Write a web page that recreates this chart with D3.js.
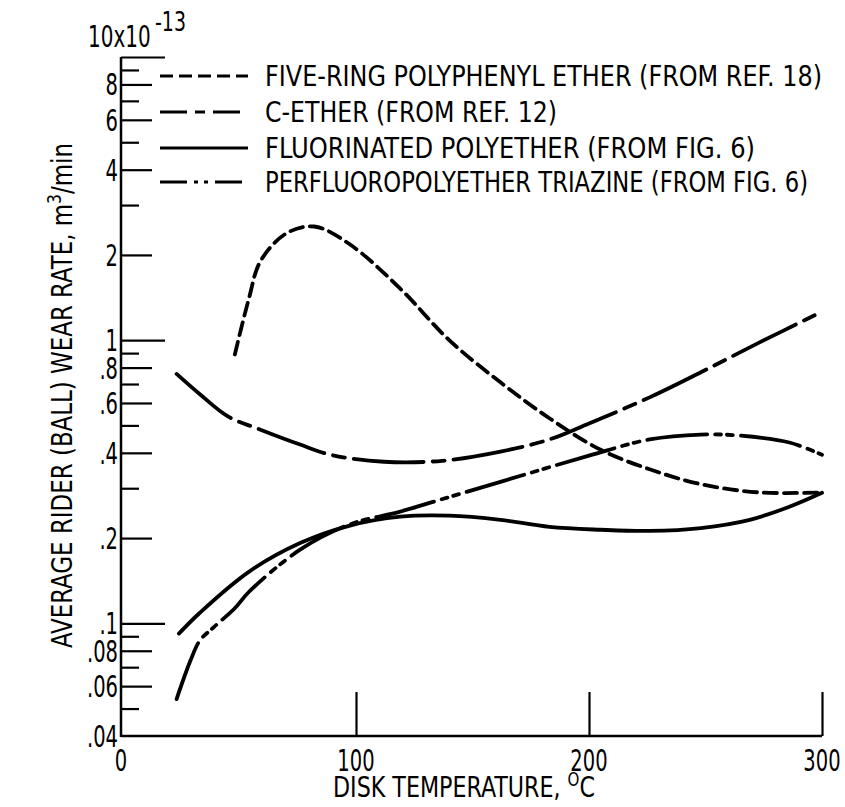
<!DOCTYPE html>
<html><head><meta charset="utf-8">
<script src="https://cdn.jsdelivr.net/npm/d3@7"></script>
<style>
html,body{margin:0;padding:0;background:#fff;}
text{font-family:"Liberation Sans Narrow","DejaVu Sans Condensed","DejaVu Sans",sans-serif;fill:#000;}
</style></head>
<body><svg id="c" width="845" height="807"></svg>
<script>
// ---- data ----
const fiveRingT = [48,54,59,70,82,97,119,140,162,183,205,226,248,273,300];
const fiveRingV = [0.89,1.4,1.9,2.38,2.52,2.19,1.52,1.0,0.71,0.53,0.41,0.35,0.31,0.29,0.29];
const cEtherT = [23,33,45,59,76,89,112,137,162,183,200,226,248,273,300];
const cEtherV = [0.76,0.644,0.538,0.483,0.428,0.394,0.372,0.375,0.404,0.446,0.508,0.628,0.77,0.98,1.26];
const fluoroT = [24,33,54,76,97,119,140,162,183,205,226,248,269,286,300];
const fluoroV = [0.092,0.109,0.152,0.192,0.221,0.238,0.240,0.232,0.219,0.214,0.212,0.217,0.232,0.258,0.289];
const triazineT = [23,29,33,39,48,54,76,97,119,136,162,200,226,248,265,286,300];
const triazineV = [0.054,0.074,0.087,0.097,0.113,0.129,0.182,0.223,0.248,0.273,0.316,0.391,0.446,0.464,0.46,0.435,0.394];
const seriesNames = ["FIVE-RING POLYPHENYL ETHER (FROM REF. 18)","C-ETHER (FROM REF. 12)","FLUORINATED POLYETHER (FROM FIG. 6)","PERFLUOROPOLYETHER TRIAZINE (FROM FIG. 6)"];
const xTickValues = [0,100,200,300];
const xTickLabels = ["0","100","200","300"];
const yLabelValues = [8,6,4,2,1,0.8,0.6,0.4,0.2,0.1,0.08,0.06,0.04];
const yLabelTexts = ["8","6","4","2","1",".8",".6",".4",".2",".1",".08",".06",".04"];
const yMinorTicks = [9,7,5,3,0.9,0.7,0.5,0.3,0.09,0.07,0.05];
const yMajorTicks = [8,6,4,2,0.8,0.6,0.4,0.2,0.08,0.06];
const yDecadeTicks = [10,1,0.1];

// ---- styles ----
const dashes = ["13,7","70,9,12,9",null,"60,8,6,6,6,8"];
const legDashes = ["13,6","27,8,10,8",null,"27,7,4,6,4,7"];
const svg = d3.select("#c");
const x = d3.scaleLinear().domain([0,300]).range([123,822]);
const y = d3.scaleLog().domain([0.04,10]).range([736,57]);
const X0 = 121;
const SX = 0.7; // horizontal condensing of tick numerals

// axes lines
svg.append("line").attr("x1",X0).attr("x2",X0).attr("y1",y(10)).attr("y2",y(0.04)+1)
  .attr("stroke","#000").attr("stroke-width",2.5);
svg.append("line").attr("x1",X0).attr("x2",x(300)).attr("y1",y(0.04)).attr("y2",y(0.04))
  .attr("stroke","#000").attr("stroke-width",2.5);

// y ticks (pointing right)
function yTicks(vals,len){
  const g = svg.append("g").attr("transform",`translate(${X0},0)`)
    .call(d3.axisRight(y).tickValues(vals).tickSize(len).tickFormat(""));
  g.select(".domain").remove();
  g.selectAll("line").attr("stroke","#000").attr("stroke-width",2.2);
}
yTicks(yMinorTicks,18);
yTicks(yMajorTicks,31);
yTicks(yDecadeTicks,44);

// y labels
svg.append("g").selectAll("text").data(yLabelValues).join("text")
  .attr("transform",(d)=>`translate(${X0-3},${y(d)+11}) scale(${SX},1)`)
  .attr("text-anchor","end").attr("font-size",31)
  .text((d,i)=>yLabelTexts[i]);

// x ticks (pointing up)
const gxt = svg.append("g").attr("transform",`translate(0,${y(0.04)})`)
  .call(d3.axisTop(x).tickValues(xTickValues.slice(1)).tickSize(44).tickFormat(""));
gxt.select(".domain").remove();
gxt.selectAll("line").attr("stroke","#000").attr("stroke-width",2.2);
// x labels
svg.append("g").selectAll("text").data(xTickValues).join("text")
  .attr("transform",(d)=>`translate(${x(d)-(d===0?2:0)},${y(0.04)+35}) scale(${SX},1)`)
  .attr("text-anchor","middle").attr("font-size",31)
  .text((d,i)=>xTickLabels[i]);

// axis titles
svg.append("text").attr("x",333).attr("y",797).attr("font-size",28)
  .attr("textLength",262).attr("lengthAdjust","spacingAndGlyphs")
  .html('DISK TEMPERATURE, <tspan dy="-11" font-size="19">O</tspan><tspan dy="11">C</tspan>');
svg.append("text").attr("transform","translate(72,648) rotate(-90)").attr("font-size",28)
  .attr("textLength",505).attr("lengthAdjust","spacingAndGlyphs")
  .html('AVERAGE RIDER (BALL) WEAR RATE, m<tspan dy="-11" font-size="19">3</tspan><tspan dy="11">/min</tspan>');
svg.append("text").attr("transform","translate(88,47) scale(0.74,1)").attr("font-size",30).text("10x10");
svg.append("text").attr("transform","translate(155,31) scale(0.78,1)").attr("font-size",27).text("-13");

// curves
const series = [[fiveRingT,fiveRingV],[cEtherT,cEtherV],[fluoroT,fluoroV],[triazineT,triazineV]];
const line = d3.line().x(d=>x(d[0])).y(d=>y(d[1])).curve(d3.curveCatmullRom.alpha(0.5));
series.forEach((s,i)=>{
  const pts = s[0].map((t,j)=>[t,s[1][j]]);
  svg.append("path").attr("d",line(pts)).attr("fill","none").attr("stroke","#000")
    .attr("stroke-width",3.8).attr("stroke-linecap","round")
    .attr("stroke-dasharray",dashes[i]);
});

// legend
const legY = [76,112,148,182];
const legW = [557,292,490,543];
seriesNames.forEach((n,i)=>{
  svg.append("line").attr("x1",160).attr("x2",248).attr("y1",legY[i]).attr("y2",legY[i])
    .attr("stroke","#000").attr("stroke-width",3).attr("stroke-dasharray",legDashes[i]);
  svg.append("text").attr("x",265).attr("y",legY[i]+10).attr("font-size",28)
    .attr("textLength",legW[i]).attr("lengthAdjust","spacingAndGlyphs").text(n);
});
</script></body></html>
